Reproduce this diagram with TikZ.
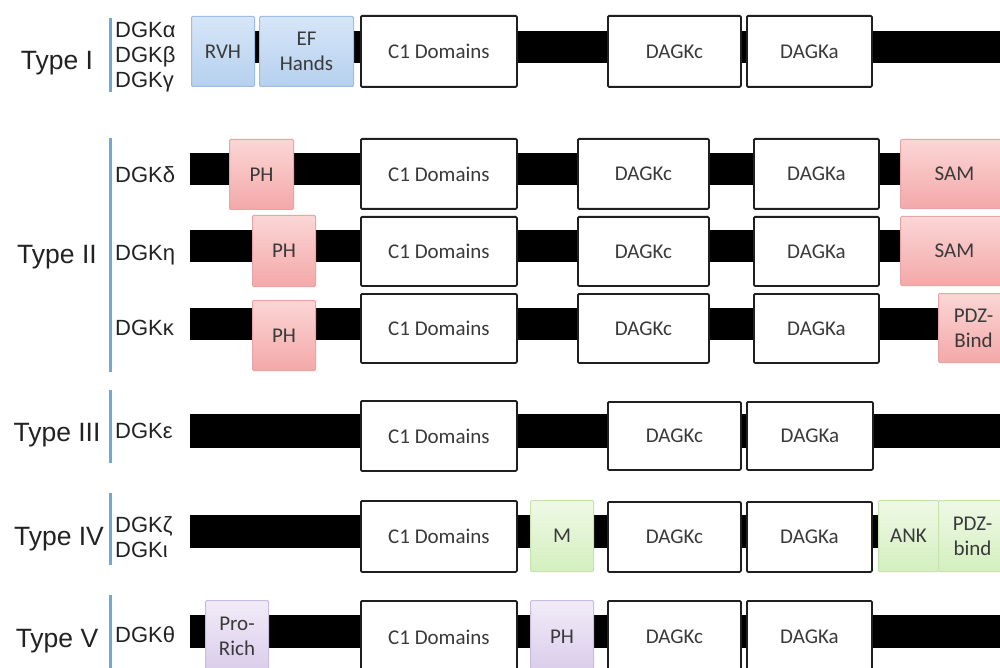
\documentclass[tikz,border=0pt]{standalone}
\usepackage{fontspec}
\setmainfont{Liberation Sans}
\newfontfamily\boxfont{Carlito}
\definecolor{bluetop}{HTML}{D6E6F8}
\definecolor{bluebot}{HTML}{B6D0EF}
\definecolor{blueedge}{HTML}{9DBDE2}
\definecolor{pinktop}{HTML}{FBD6D6}
\definecolor{pinkbot}{HTML}{F4A8A8}
\definecolor{pinkedge}{HTML}{EBA3A3}
\definecolor{greentop}{HTML}{EFF9E6}
\definecolor{greenbot}{HTML}{D4EFBF}
\definecolor{greenedge}{HTML}{C6E2AD}
\definecolor{purptop}{HTML}{F2ECF8}
\definecolor{purpbot}{HTML}{D9CCEB}
\definecolor{purpedge}{HTML}{CABCE0}
\definecolor{sepblue}{HTML}{6FA7D8}
\definecolor{ink}{HTML}{222222}
\definecolor{boxink}{HTML}{3A3A3A}

% #1 name, #2 style, #3 x1, #4 y1, #5 x2, #6 y2, #7 label
\newcommand{\domainbox}[7]{%
  \node[#2, minimum width=#5-#3, minimum height=#6-#4] (#1) at (#3,#4) {#7};}
% #1 x1, #2 y1, #3 x2, #4 y2
\newcommand{\backbone}[4]{\fill[barfill] (#1,#2) rectangle (#3,#4);}

\begin{document}
\begin{tikzpicture}[x=1pt,y=-1pt,
  dom/.style={draw=black!88, line width=1.8pt, fill=white, rounded corners=1.2pt,
    inner sep=0pt, anchor=north west, align=center, text=boxink,
    font=\boxfont\fontsize{21}{25}\selectfont},
  bluedom/.style={dom, draw=blueedge, line width=1pt, top color=bluetop, bottom color=bluebot},
  pinkdom/.style={dom, draw=pinkedge, line width=1pt, top color=pinktop, bottom color=pinkbot},
  greendom/.style={dom, draw=greenedge, line width=1pt, top color=greentop, bottom color=greenbot},
  purpdom/.style={dom, draw=purpedge, line width=1pt, top color=purptop, bottom color=purpbot},
  barfill/.style={fill=black},
  typelab/.style={anchor=base, text=ink, inner sep=0pt, font=\fontsize{26.5}{30}\selectfont},
  genelab/.style={anchor=base west, text=ink, inner sep=0pt, font=\fontsize{22}{25}\selectfont},
  sepline/.style={draw=sepblue, line width=3pt}]
\useasboundingbox (0,0) rectangle (1000,668);

% ---------------- Type I ----------------
\node[typelab] (t1) at (57,70) {Type I};
\draw[sepline] (110,18) -- (110,92);
\node[genelab] (ga) at (115,38) {DGKα};
\node[genelab] (gb) at (115,63) {DGKβ};
\node[genelab] (gg) at (115,88) {DGKγ};
\backbone{240}{31}{1000}{63}
\domainbox{rvh}{bluedom}{191}{16}{254}{86}{RVH}
\domainbox{ef}{bluedom}{259}{16}{353}{86}{EF\\Hands}
\domainbox{c1a}{dom}{360}{15}{516}{86}{C1 Domains}
\domainbox{dca}{dom}{607}{15}{740}{86}{DAGKc}
\domainbox{daa}{dom}{746}{15}{871}{86}{DAGKa}

% ---------------- Type II ----------------
\node[typelab] (t2) at (57,263) {Type II};
\draw[sepline] (110,138) -- (110,372);
\node[genelab] (gd) at (115,183) {DGKδ};
\node[genelab] (ge) at (115,260) {DGKη};
\node[genelab] (gk) at (115,335) {DGKκ};
% delta
\backbone{190}{153}{1000}{185}
\domainbox{phd}{pinkdom}{229}{139}{293}{209}{PH}
\domainbox{c1d}{dom}{360}{138}{516}{208}{C1 Domains}
\domainbox{dcd}{dom}{577}{138}{708}{208}{DAGKc}
\domainbox{dad}{dom}{753}{138}{878}{208}{DAGKa}
\domainbox{samd}{pinkdom}{900}{139}{1008}{208}{SAM}
% eta
\backbone{190}{230}{1000}{262}
\domainbox{phe}{pinkdom}{252}{215}{315}{286}{PH}
\domainbox{c1e}{dom}{360}{216}{516}{285}{C1 Domains}
\domainbox{dce}{dom}{577}{216}{708}{285}{DAGKc}
\domainbox{dae}{dom}{753}{216}{878}{285}{DAGKa}
\domainbox{same}{pinkdom}{900}{216}{1008}{285}{SAM}
% kappa
\backbone{190}{308}{1000}{340}
\domainbox{phk}{pinkdom}{252}{300}{315}{370}{PH}
\domainbox{c1k}{dom}{360}{293}{516}{362}{C1 Domains}
\domainbox{dck}{dom}{577}{293}{708}{362}{DAGKc}
\domainbox{dak}{dom}{753}{293}{878}{362}{DAGKa}
\domainbox{pdzk}{pinkdom}{938}{293}{1008}{362}{PDZ-\\Bind}

% ---------------- Type III ----------------
\node[typelab] (t3) at (57,441) {Type III};
\draw[sepline] (110,390) -- (110,463);
\node[genelab] (geps) at (115,438) {DGKε};
\backbone{190}{414}{1000}{448}
\domainbox{c1x}{dom}{360}{400}{516}{470}{C1 Domains}
\domainbox{dcx}{dom}{607}{401}{740}{469}{DAGKc}
\domainbox{dax}{dom}{746}{401}{872}{469}{DAGKa}

% ---------------- Type IV ----------------
\node[typelab] (t4) at (59,545) {Type IV};
\draw[sepline] (110,493) -- (110,565);
\node[genelab] (gz) at (115,532) {DGKζ};
\node[genelab] (gi) at (115,557) {DGKι};
\backbone{190}{515}{1000}{548}
\domainbox{c1z}{dom}{360}{500}{516}{571}{C1 Domains}
\domainbox{mz}{greendom}{530}{500}{593}{571}{M}
\domainbox{dcz}{dom}{607}{501}{740}{571}{DAGKc}
\domainbox{daz}{dom}{746}{501}{871}{571}{DAGKa}
\domainbox{ankz}{greendom}{878}{500}{938}{571}{ANK}
\domainbox{pdzz}{greendom}{938}{500}{1006}{571}{PDZ-\\bind}

% ---------------- Type V ----------------
\node[typelab] (t5) at (57,647) {Type V};
\draw[sepline] (110,595) -- (110,668);
\node[genelab] (gth) at (115,642) {DGKθ};
\backbone{190}{615}{1000}{648}
\domainbox{pro}{purpdom}{205}{600}{268}{672}{Pro-\\Rich}
\domainbox{c1t}{dom}{360}{600}{516}{672}{C1 Domains}
\domainbox{pht}{purpdom}{530}{600}{593}{672}{PH}
\domainbox{dct}{dom}{607}{600}{740}{672}{DAGKc}
\domainbox{dat}{dom}{746}{600}{871}{672}{DAGKa}
\end{tikzpicture}
\end{document}
